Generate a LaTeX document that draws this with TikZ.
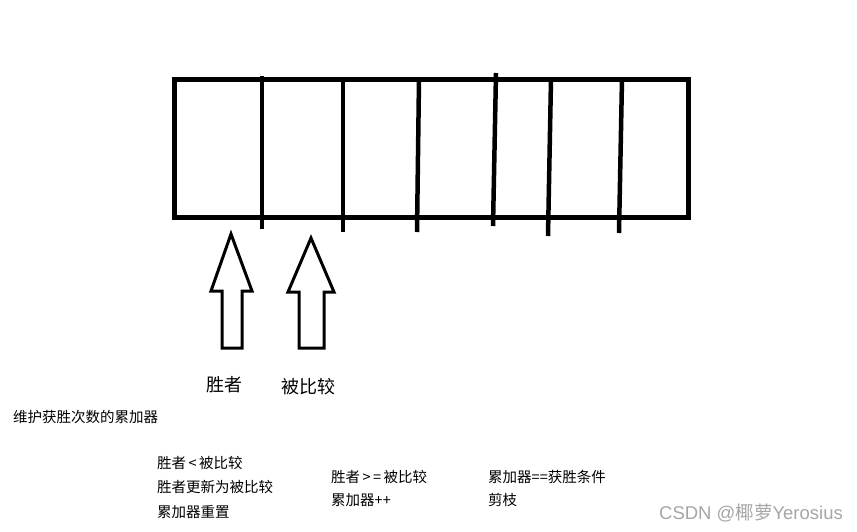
\documentclass[tikz,border=0pt]{standalone}
\usepackage{fontspec}
\newfontfamily\cjk{Noto Sans CJK SC}
\begin{document}
\begin{tikzpicture}[x=1pt,y=-1pt,
  box/.style={line width=5pt},
  divider/.style={line width=4.5pt},
  ptr/.style={line width=3pt,line join=miter},
  big/.style={font=\cjk\fontsize{18}{20}\selectfont,inner sep=0pt},
  note/.style={font=\cjk\fontsize{14.5}{16}\selectfont,inner sep=0pt,anchor=west},
  wmark/.style={font=\fontspec{Liberation Sans}\fontsize{18.5}{20}\selectfont,text=black!35,inner sep=0pt,anchor=east}]
\useasboundingbox (0,0) rectangle (857,531);
\fill[white] (0,0) rectangle (857,531);
% array box
\draw[box] (174,79) rectangle (688,217);
\draw[divider] (262,76) -- (262,229);
\draw[divider] (343,79) -- (343,232);
\draw[divider] (419,79) -- (417,232);
\draw[divider] (496,73) -- (493,226);
\draw[divider] (551,79) -- (548,236);
\draw[divider] (622,79) -- (619,233);
% pointers
\draw[ptr] (231,234) -- (252,291) -- (242,291) -- (242,348) -- (222,348) -- (222,291) -- (211,291) -- cycle;
\draw[ptr] (311,238) -- (334,292) -- (324,292) -- (324,348) -- (299,348) -- (299,292) -- (288,292) -- cycle;
\node[big] (winner) at (224,385) {胜者};
\node[big] (compared) at (308,387) {被比较};
% notes
\node[note] (acc) at (13,417) {维护获胜次数的累加器};
\node[note] (l1) at (157,463) {胜者\,<\,被比较};
\node[note] (l2) at (157,487) {胜者更新为被比较};
\node[note] (l3) at (157,512) {累加器重置};
\node[note] (m1) at (331,477) {胜者\,>\,=\,被比较};
\node[note] (m2) at (331,500) {累加器++};
\node[note] (r1) at (488,477) {累加器==获胜条件};
\node[note] (r2) at (488,500) {剪枝};
\node[wmark] (wm) at (843,513) {CSDN @{\cjk 椰萝}Yerosius};
\end{tikzpicture}
\end{document}
